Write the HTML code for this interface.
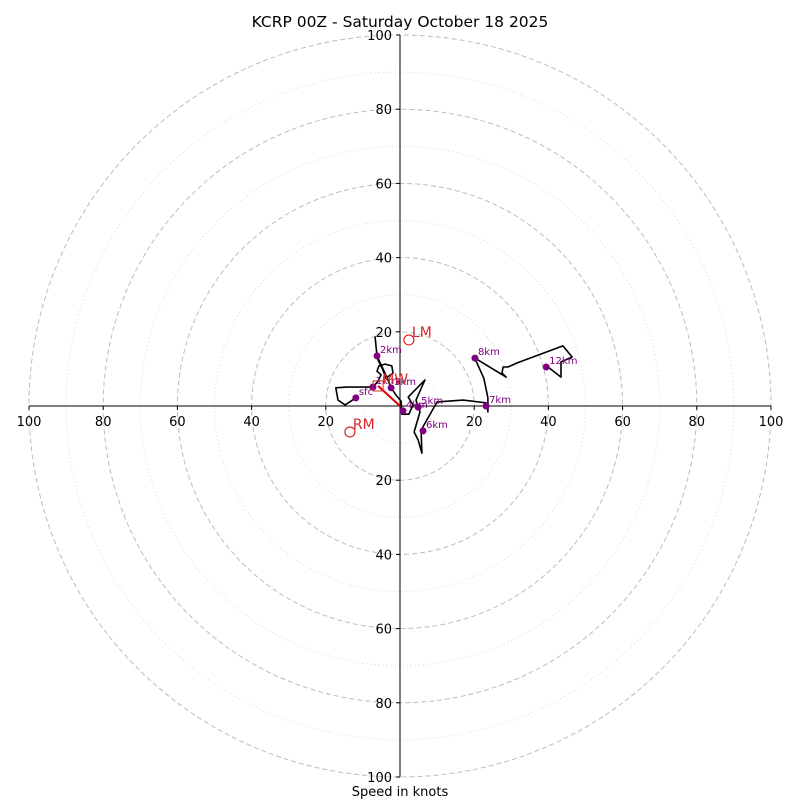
<!DOCTYPE html>
<html><head><meta charset="utf-8"><style>
body{margin:0;background:#fff;}
svg{display:block;font-family:"DejaVu Sans","Liberation Sans",sans-serif;}
</style></head><body>
<svg id="chart" width="800" height="800" viewBox="0 0 800 800">
<text x="400" y="27" text-anchor="middle" font-size="15.5">KCRP 00Z - Saturday October 18 2025</text>
<text x="400" y="796" text-anchor="middle" font-size="13">Speed in knots</text>
<g id="grid"></g><g id="axes"></g><g id="plot"></g>
</svg>
<script>
const ringSpeeds=[10,20,30,40,50,60,70,80,90,100];
const tickLabels=[20,40,60,80,100];
const traceU=[-11.9,-14.8,-16.7,-17.3,-14.3,-7.3,-5.9,-5.1,-6.2,-5.7,-4.0,-2.2,-1.9,-3.8,-4.6,-5.9,-6.2,-6.7,-6.2,-3.2,-2.4,-1.1,0.3,0.5,2.4,3.5,2.2,6.7,4.3,4.9,5.4,3.8,4.9,5.9,5.7,10.0,17.0,23.5,23.7,23.7,22.6,20.5,20.2,28.6,27.5,27.8,29.1,31.5,43.9,46.4,43.4,43.4,39.9];
const traceV=[2.2,0.3,1.6,4.9,5.1,5.1,6.7,8.4,9.4,10.8,11.3,10.8,8.9,7.5,9.7,12.4,13.5,18.6,13.5,7.0,4.9,3.0,1.3,-2.2,-2.2,0.3,2.4,7.0,1.6,-0.3,-1.6,-7.0,-9.2,-12.7,-6.5,1.1,1.6,0.8,-1.6,2.2,7.5,12.1,12.9,7.8,8.9,10.5,10.5,11.6,16.2,13.2,11.9,7.8,10.5];
const markerLabels=["sfc","1km","2km","3km","4km","5km","6km","7km","8km","12km"];
const markerU=[-11.9,-7.3,-6.2,-2.4,0.8,4.9,6.2,23.2,20.2,39.4];
const markerV=[2.2,5.1,13.5,4.9,-1.3,-0.3,-6.7,0,12.9,10.5];
const stormLabels=["LM","RM"];
const stormU=[2.4,-13.5];
const stormV=[17.8,-7.0];
const meanWindU=[-5.9];
const meanWindV=[5.4];

const cx=400,cy=406,scale=3.71;
const X=u=>cx+u*scale, Y=v=>cy-v*scale;
const NS="http://www.w3.org/2000/svg";
function mk(tag,parent,attrs){const e=document.createElementNS(NS,tag);for(const k in attrs)e.setAttribute(k,attrs[k]);parent.appendChild(e);return e;}
const grid=document.getElementById('grid'),axes=document.getElementById('axes'),plot=document.getElementById('plot');

ringSpeeds.forEach(s=>{
  const major=s%20===0;
  const c=mk('circle',grid,{cx:cx,cy:cy,r:s*scale,fill:'none',stroke:major?'#bdbdbd':'#d6d6d6','stroke-width':1,'stroke-dasharray':major?'5,3':'1,3'});
  
  
});
let a=mk('line',axes,{x1:cx,y1:Y(100),x2:cx,y2:Y(-100),stroke:'#000','stroke-width':1});


a=mk('line',axes,{x1:X(-100),y1:cy,x2:X(100),y2:cy,stroke:'#000','stroke-width':1});


tickLabels.forEach(t=>{
  [t,-t].forEach(s=>{
    let tk=mk('line',axes,{x1:X(s),y1:cy,x2:X(s),y2:cy+4,stroke:'#000'});
    
    
    let tx=mk('text',axes,{x:X(s),y:cy+20,'text-anchor':'middle','font-size':13});
    tx.textContent=t;
    
    
    tk=mk('line',axes,{x1:cx-4,y1:Y(s),x2:cx,y2:Y(s),stroke:'#000'});
    
    
    tx=mk('text',axes,{x:cx-8,y:Y(s)+5,'text-anchor':'end','font-size':13});
    tx.textContent=t;
    
    
  });
});
const pts=traceU.map((u,i)=>X(u).toFixed(1)+','+Y(traceV[i]).toFixed(1)).join(' ');
const pl=mk('polyline',plot,{points:pts,fill:'none',stroke:'#000','stroke-width':1.6,'stroke-linejoin':'round'});


markerLabels.forEach((lb,i)=>{
  const d=mk('circle',plot,{cx:X(markerU[i]),cy:Y(markerV[i]),r:3.5,fill:'#800080'});
  
  
  const t=mk('text',plot,{x:X(markerU[i])+3,y:Y(markerV[i])-3,'font-size':10,fill:'#800080'});
  t.textContent=lb;
  
  
});
const arr=mk('line',plot,{x1:cx,y1:cy,x2:X(meanWindU[0]),y2:Y(meanWindV[0]),stroke:'#e00000','stroke-width':2});


const sq=mk('rect',plot,{x:X(meanWindU[0])-5,y:Y(meanWindV[0])-5,width:10,height:10,fill:'none',stroke:'#d62728','stroke-width':1});


const mw=mk('text',plot,{x:X(meanWindU[0])+4,y:Y(meanWindV[0])-2,'font-size':14,fill:'#d62728'});
mw.textContent='MW';


stormLabels.forEach((lb,i)=>{
  const c=mk('circle',plot,{cx:X(stormU[i]),cy:Y(stormV[i]),r:5,fill:'none',stroke:'#d62728','stroke-width':1.2});
  
  
  const t=mk('text',plot,{x:X(stormU[i])+3,y:Y(stormV[i])-3,'font-size':14,fill:'#d62728'});
  t.textContent=lb;
  
  
});
</script>
</body></html>
